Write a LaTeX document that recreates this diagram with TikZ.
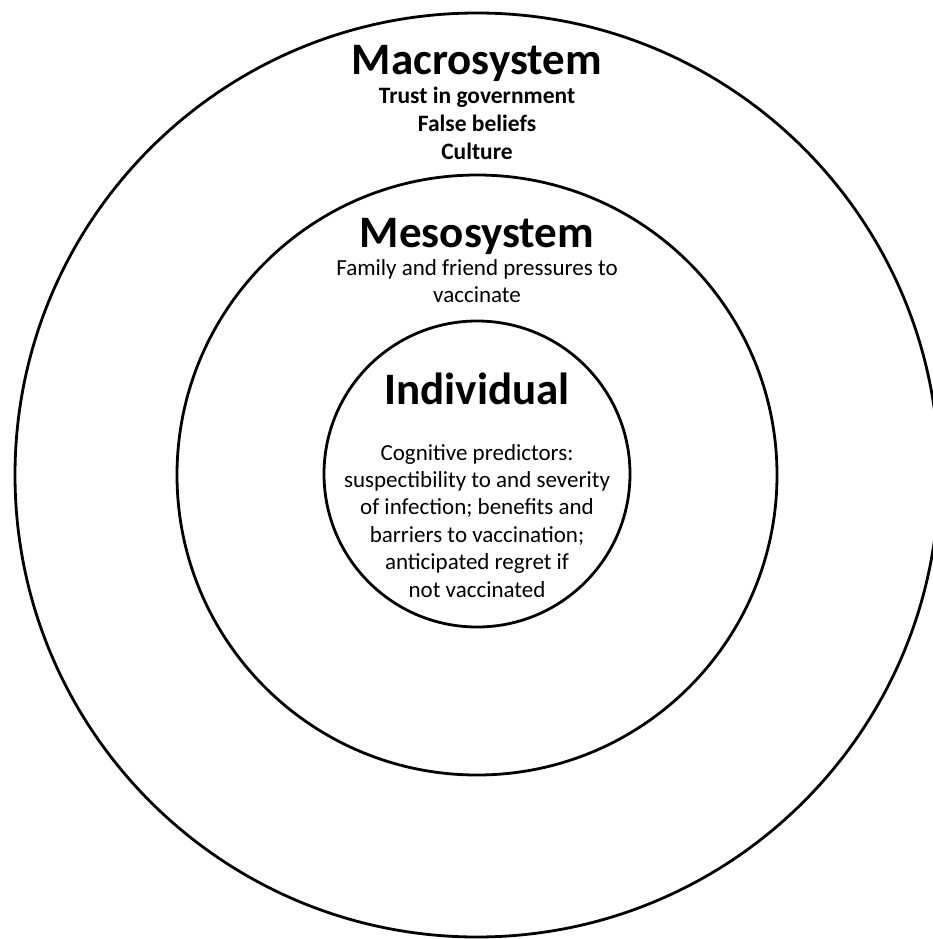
\documentclass[tikz,border=0pt]{standalone}
\usepackage{fontspec}
\setmainfont{Carlito}
\begin{document}
\begin{tikzpicture}[x=1pt,y=-1pt]

      \useasboundingbox (0,0) rectangle (933,939);
      \clip (0,0) rectangle (933,939);

      \begin{scope}[every node/.style={circle,draw,line width=2.8pt,inner sep=0pt}]
        \node[minimum size=924pt] (macro) at (477,475) {};
        \node[minimum size=600pt] (meso)  at (477,475) {};
        \node[minimum size=306pt] (indiv) at (477,474) {};
      \end{scope}

      \begin{scope}[every node/.style={anchor=base,inner sep=0pt}]
        \node[font=\fontsize{45}{50}\selectfont\bfseries] (macrotitle) at (477,75)  {Macrosystem};
        \node[font=\fontsize{45}{50}\selectfont\bfseries] (mesotitle)  at (477,247) {Mesosystem};
        \node[font=\fontsize{45}{50}\selectfont\bfseries] (indivtitle) at (477,404) {Individual};

        \foreach \txt [count=\i] in {Trust in government,False beliefs,Culture}
          \node[font=\fontsize{23.5}{26}\selectfont\bfseries] (macroline\i) at (477,104+27.5*\i-27.5) {\txt};

        \foreach \txt [count=\i] in {Family and friend pressures to,vaccinate}
          \node[font=\fontsize{23}{26}\selectfont] (mesoline\i) at (477,275+27*\i-27) {\txt};

        \foreach \txt [count=\i] in {Cognitive predictors:,suspectibility to and severity,
            of infection; benefits and,barriers to vaccination;,anticipated regret if,not vaccinated}
          \node[font=\fontsize{23}{26}\selectfont] (indivline\i) at (477,460+27.4*\i-27.4) {\txt};
      \end{scope}

    \end{tikzpicture}
\end{document}
